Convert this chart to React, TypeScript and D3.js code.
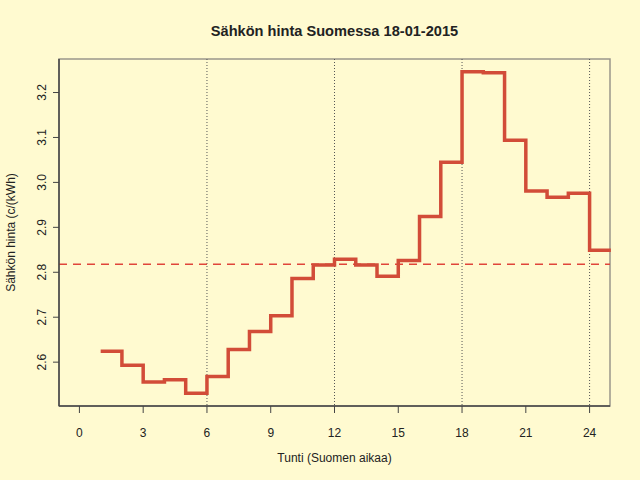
import React from 'react';
import * as d3 from 'd3';

// Hourly electricity price (c/kWh), hours 1..24
const hours = [1, 2, 3, 4, 5, 6, 7, 8, 9, 10, 11, 12, 13, 14, 15, 16, 17, 18, 19, 20, 21, 22, 23, 24];
const prices = [
  2.624, 2.593, 2.556, 2.561, 2.531, 2.568, 2.628, 2.668, 2.703, 2.786, 2.816, 2.829,
  2.816, 2.791, 2.826, 2.924, 3.045, 3.246, 3.244, 3.094, 2.981, 2.967, 2.976, 2.849,
];
const xTicks = [0, 3, 6, 9, 12, 15, 18, 21, 24];
const yTicks = [2.6, 2.7, 2.8, 2.9, 3.0, 3.1, 3.2];
const guideHours = [6, 12, 18, 24];

const width = 640;
const height = 480;
const margin = { top: 59, right: 30, bottom: 74, left: 59 };
const font = '"Liberation Sans", Arial, Helvetica, sans-serif';

const App: React.FC = () => {
  const innerW = width - margin.left - margin.right;
  const innerH = height - margin.top - margin.bottom;

  // R-style 4% axis extension
  const xMin = 0, xMax = 24;
  const xExt = (xMax - xMin) * 0.04;
  const x = d3.scaleLinear().domain([xMin - xExt, xMax + xExt]).range([0, innerW]);

  const yMin = d3.min(prices) || 0;
  const yMax = d3.max(prices) || 0;
  const yExt = (yMax - yMin) * 0.04;
  const y = d3.scaleLinear().domain([yMin - yExt, yMax + yExt]).range([innerH, 0]);

  const mean = d3.mean(prices) || 0;

  const pts: [number, number][] = hours.map((h, i) => [h, prices[i]]);
  pts.push([hours[hours.length - 1] + 1, prices[prices.length - 1]]);
  const line = d3.line<[number, number]>()
    .x(d => x(d[0]))
    .y(d => y(d[1]))
    .curve(d3.curveStepAfter);

  const red = '#d24c38';

  return (
    <svg
      width={width}
      height={height}
      style={{ position: 'absolute', left: 0, top: 0, background: '#fffad0' }}
      fontFamily={font}
    >
      <rect width={width} height={height} fill="#fffad0" />
      <defs>
        <clipPath id="plot-clip">
          <rect x={0} y={0} width={innerW + 1} height={innerH} />
        </clipPath>
      </defs>

      <text x={margin.left + innerW / 2} y={36} textAnchor="middle" fontSize={14.6} fontWeight="bold" fill="#222">
        Sähkön hinta Suomessa 18-01-2015
      </text>

      <g transform={`translate(${margin.left},${margin.top})`}>
        {/* box */}
        <rect x={0} y={0} width={innerW} height={innerH} fill="none" stroke="#9a968a" strokeWidth={1.5} />

        {/* vertical guides */}
        {guideHours.map(h => (
          <line key={h} x1={x(h)} x2={x(h)} y1={0} y2={innerH} stroke="#555" strokeWidth={1} strokeDasharray="1,2" />
        ))}

        {/* mean */}
        <line x1={0} x2={innerW} y1={y(mean)} y2={y(mean)} stroke="#e0453a" strokeWidth={1.5} strokeDasharray="8,6" />

        {/* step line */}
        <path d={line(pts) || ''} fill="none" stroke={red} strokeWidth={3.5} clipPath="url(#plot-clip)" />

        {/* left axis */}
        <line x1={0} x2={0} y1={0} y2={innerH} stroke="#444" strokeWidth={1.5} />
        {yTicks.map(t => (
          <g key={t} transform={`translate(0,${y(t)})`}>
            <line x1={-6} x2={0} stroke="#444" />
            <text transform="translate(-17,0) rotate(-90)" textAnchor="middle" dy="0.35em" fontSize={12} fill="#222">
              {t.toFixed(1)}
            </text>
          </g>
        ))}

        {/* bottom axis */}
        <line x1={0} x2={innerW} y1={innerH} y2={innerH} stroke="#444" strokeWidth={1.5} />
        {xTicks.map(t => (
          <g key={t} transform={`translate(${x(t)},${innerH})`}>
            <line y1={0} y2={7} stroke="#444" />
            <text y={31} textAnchor="middle" fontSize={12} fill="#222">{t}</text>
          </g>
        ))}
      </g>

      <text x={margin.left + innerW / 2} y={462} textAnchor="middle" fontSize={12} fill="#222">
        Tunti (Suomen aikaa)
      </text>
      <text transform={`translate(15,${margin.top + innerH / 2}) rotate(-90)`} textAnchor="middle" fontSize={12} fill="#222">
        Sähkön hinta (c/(kWh)
      </text>
    </svg>
  );
};

export default App;
